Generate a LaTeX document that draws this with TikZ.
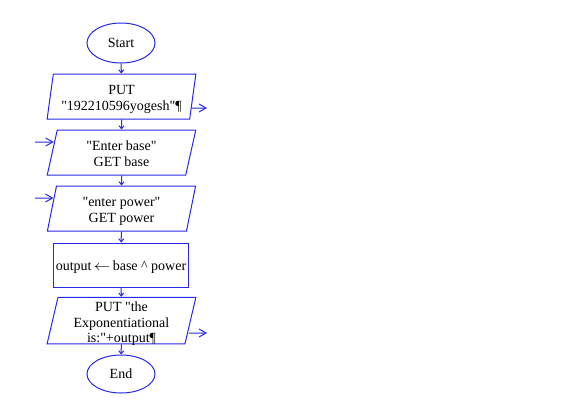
\documentclass[tikz,border=0pt]{standalone}
\usepackage{fontspec}
\setmainfont{Liberation Serif}
\usetikzlibrary{shapes.geometric,arrows.meta}
\definecolor{flowblue}{RGB}{40,40,235}
\def\flowfont{\fontsize{14}{15.5}\selectfont}
\newcommand\flowtext[2][-3pt]{\raisebox{#1}[\height][\depth]{\begin{tabular}{@{}c@{}}#2\end{tabular}}}

\begin{document}
\begin{tikzpicture}[x=1pt, y=-1pt,
	terminal/.style={draw=flowblue, line width=1pt, ellipse, minimum width=68pt, minimum height=40pt, inner sep=0pt, font=\flowfont},
	iobox/.style={draw=flowblue, line width=1pt, trapezium, trapezium left angle=80, trapezium right angle=100, trapezium stretches=true, minimum width=149pt, minimum height=45pt, inner sep=0pt, font=\flowfont},
	procbox/.style={draw=flowblue, line width=1pt, trapezium, trapezium left angle=90, trapezium right angle=90, trapezium stretches=true, minimum width=136pt, minimum height=44pt, inner sep=0pt, font=\flowfont},
	flow/.style={draw=flowblue, line width=1pt, -{Straight Barb[length=3pt, width=5pt]}},
	sidearrow/.style={draw=flowblue, line width=1pt, -{Straight Barb[length=7pt, width=8pt]}}]
	%%%%% START %%%%%
	\useasboundingbox (0, 0) rectangle (577, 402);
	
	\node[terminal] (start) at (121, 43) {Start};
	\node[iobox] (putid) at (121.5, 96.5) {\flowtext{PUT\\\textquotedbl192210596yogesh\textquotedbl¶}};
	\node[iobox] (getbase) at (121.5, 152.5) {\flowtext{\textquotedbl Enter base\textquotedbl\\GET base}};
	\node[iobox] (getpower) at (121.5, 208.5) {\flowtext{\textquotedbl enter power\textquotedbl\\GET power}};
	\node[procbox] (calc) at (121, 265) {\flowtext[-2pt]{output\,\scalebox{1.15}[1]{$\leftarrow$}\,base \symbol{94} power}};
	\node[iobox] (putout) at (121.5, 320.5) {\flowtext[-3.5pt]{PUT \textquotedbl the\\Exponentiational\\is:\textquotedbl+output¶}};
	\node[terminal, minimum height=38pt] (stop) at (121, 374) {End};
	
	\draw[flow] (start) -- (putid);
	\draw[flow] (putid) -- (getbase);
	\draw[flow] (getbase) -- (getpower);
	\draw[flow] (getpower) -- (calc);
	\draw[flow] (calc) -- (putout);
	\draw[flow] (putout) -- (stop);
	
	\coordinate (idout) at (207, 108);
	\coordinate (basein) at (35, 142);
	\coordinate (powerin) at (35, 198);
	\coordinate (resout) at (207, 333);
	\draw[sidearrow] ([shift={(-2, 11.5)}]putid.east) -- (idout);
	\draw[sidearrow] (basein) -- ([shift={(2, -10.5)}]getbase.west);
	\draw[sidearrow] (powerin) -- ([shift={(2, -10.5)}]getpower.west);
	\draw[sidearrow] ([shift={(-2, 12.5)}]putout.east) -- (resout);
	%%%%% END %%%%%
\end{tikzpicture}
\end{document}
